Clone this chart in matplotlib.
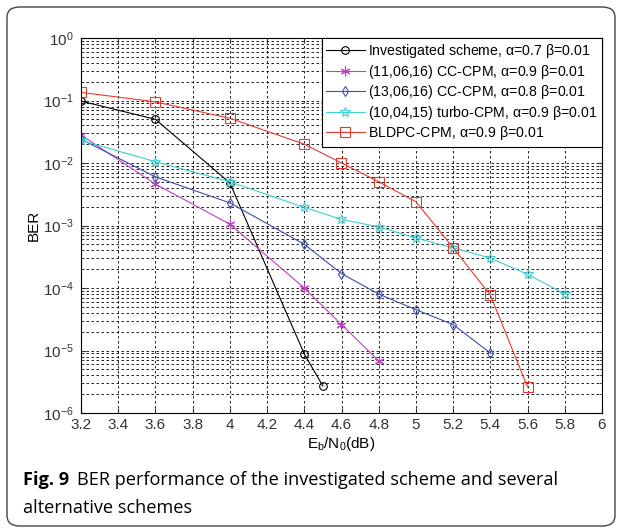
import matplotlib
matplotlib.use("Agg")
import matplotlib.pyplot as plt
from matplotlib.patches import FancyBboxPatch
from matplotlib.ticker import LogLocator, NullFormatter

plt.rcParams['font.family'] = ['Liberation Sans', 'DejaVu Sans']
plt.rcParams['mathtext.default'] = 'regular'

# data (Eb/N0 in dB, BER)
x_inv = [3.2, 3.6, 4.0, 4.4, 4.5]
ber_inv = [0.098, 0.05, 0.0048, 8.8e-6, 2.7e-6]

x_cc11 = [3.2, 3.6, 4.0, 4.4, 4.6, 4.8]
ber_cc11 = [0.028, 0.0046, 1.05e-3, 1.0e-4, 2.6e-5, 6.8e-6]

x_cc13 = [3.2, 3.6, 4.0, 4.4, 4.6, 4.8, 5.0, 5.2, 5.4]
ber_cc13 = [0.024, 0.006, 2.3e-3, 5.0e-4, 1.7e-4, 8.0e-5, 4.5e-5, 2.6e-5, 9.1e-6]

x_turbo = [3.2, 3.6, 4.0, 4.4, 4.6, 4.8, 5.0, 5.2, 5.4, 5.6, 5.8]
ber_turbo = [0.023, 0.0105, 0.005, 1.95e-3, 1.25e-3, 9.5e-4, 6.3e-4, 4.4e-4, 3.0e-4, 1.66e-4, 8.0e-5]

x_ldpc = [3.2, 3.6, 4.0, 4.4, 4.6, 4.8, 5.0, 5.2, 5.4, 5.6]
ber_ldpc = [0.135, 0.095, 0.052, 0.02, 0.01, 0.005, 0.0024, 4.4e-4, 7.7e-5, 2.6e-6]

labels = [
    r'Investigated scheme, $\alpha$=0.7 $\beta$=0.01',
    r'(11,06,16) CC-CPM, $\alpha$=0.9 $\beta$=0.01',
    r'(13,06,16) CC-CPM, $\alpha$=0.8 $\beta$=0.01',
    r'(10,04,15) turbo-CPM, $\alpha$=0.9 $\beta$=0.01',
    r'BLDPC-CPM, $\alpha$=0.9 $\beta$=0.01',
]
xticks = [3.2 + 0.2 * i for i in range(15)]

fig = plt.figure(figsize=(6.22, 5.28), dpi=100)
ax = fig.add_axes([81 / 622, 1 - 413 / 528, 521 / 622, 375 / 528])

# asterisk marker like MATLAB '*'
aster = (6, 2, 0)
ax.semilogy(x_inv, ber_inv, '-', color='k', lw=0.8, marker='o', ms=5.5, mfc='none', mec='k', mew=0.8, label=labels[0])
ax.semilogy(x_cc11, ber_cc11, '-', color='#c040c0', lw=0.8, marker=aster, ms=7, mec='#c040c0', mew=0.8, label=labels[1])
ax.semilogy(x_cc13, ber_cc13, '-', color='#3f4fb0', lw=0.8, marker='d', ms=5.5, mfc='none', mec='#3f4fb0', mew=0.8, label=labels[2])
ax.semilogy(x_turbo, ber_turbo, '-', color='#40d0d0', lw=0.8, marker='*', ms=7.5, mfc='none', mec='#40d0d0', mew=0.8, label=labels[3])
ax.semilogy(x_ldpc, ber_ldpc, '-', color='#e8392e', lw=0.8, marker='s', ms=6.5, mfc='none', mec='#e8392e', mew=0.8, label=labels[4])

ax.set_xlim(3.2, 6.0)
ax.set_ylim(1e-6, 1)
ax.set_xticks(xticks)
ax.set_xticklabels([f'{t:g}' for t in xticks])
ax.yaxis.set_major_locator(LogLocator(base=10, numticks=10))
ax.yaxis.set_minor_locator(LogLocator(base=10, subs=range(2, 10), numticks=10))
ax.yaxis.set_minor_formatter(NullFormatter())

ax.grid(True, which='major', color='k', ls=(0, (3, 3)), lw=0.6)
ax.grid(True, which='minor', axis='y', color='k', ls=(0, (3, 3)), lw=0.6)
ax.tick_params(which='both', direction='in', top=True, right=True, labelsize=11, colors='#333333')
ax.tick_params(axis='y', pad=5)
ax.tick_params(which='minor', length=2)
for s in ax.spines.values():
    s.set_linewidth(0.8)

ax.set_xlabel(r'$E_b/N_0$(dB)', fontsize=11, labelpad=2)
ax.set_ylabel('BER', fontsize=11, labelpad=2)

leg = ax.legend(loc='upper right', fontsize=10.2, borderaxespad=0, fancybox=False,
                edgecolor='k', framealpha=1, handlelength=2.7, handletextpad=0.25,
                labelspacing=0.18, borderpad=0.3)
leg.get_frame().set_linewidth(0.8)

# rounded outer frame of the figure panel
frame = FancyBboxPatch((7 / 622, 2 / 528), 608 / 622, 519 / 528,
                       boxstyle='round,pad=0,rounding_size=0.02',
                       transform=fig.transFigure, fill=False, ec='#444444', lw=1.0)
fig.patches.append(frame)

cap_font = ['Open Sans', 'DejaVu Sans']
cap_size = 13.1
t1 = fig.text(23 / 622, 1 - 480 / 528, 'Fig. 9', fontsize=cap_size, fontweight='bold',
              family=cap_font, va='center', ha='left')
fig.canvas.draw()
bb = t1.get_window_extent()
fig.text(bb.x1 / 622 + 0.012, 1 - 480 / 528,
         'BER performance of the investigated scheme and several',
         fontsize=cap_size, family=cap_font, va='center', ha='left')
fig.text(23 / 622, 1 - 508 / 528, 'alternative schemes', fontsize=cap_size,
         family=cap_font, va='center', ha='left')

fig.savefig('out.png', dpi=100)
